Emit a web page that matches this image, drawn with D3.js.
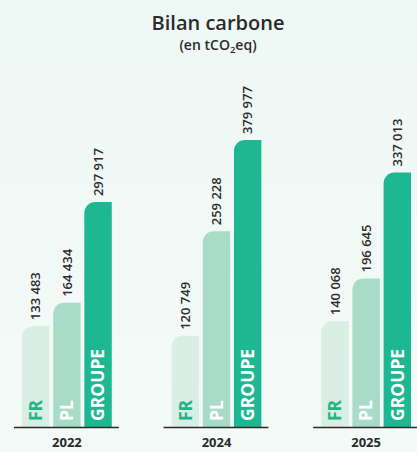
<!DOCTYPE html>
<html>
<head>
<meta charset="utf-8">
<script src="https://cdn.jsdelivr.net/npm/d3@7"></script>
<style>
  body { margin: 0; background: #f1f9f6; }
  svg { display: block; }
</style>
</head>
<body>
<div id="chart"></div>
<script>
// data
let years = ['2022', '2024', '2025'];
let series = ['FR', 'PL', 'GROUPE'];
let valuesFR = [133483, 120749, 140068];
let valuesPL = [164434, 259228, 196645];
let valuesGroupe = [297917, 379977, 337013];

let svgWidth = 417;
let svgHeight = 452;
let baseline = 427;

let colors = { FR: '#d9eee5', PL: '#a8dcc8', GROUPE: '#1db891' };
let labelColors = { FR: '#23b486', PL: '#ffffff', GROUPE: '#ffffff' };

let rows = years.map((y, i) => ({
  year: y,
  FR: valuesFR[i],
  PL: valuesPL[i],
  GROUPE: valuesGroupe[i]
}));

let svg = d3.select('#chart')
  .append('svg')
  .attr('width', svgWidth)
  .attr('height', svgHeight);

// background gradient
let defs = svg.append('defs');
let grad = defs.append('linearGradient')
  .attr('id', 'bg')
  .attr('x1', 0).attr('y1', 0).attr('x2', 0).attr('y2', 1);
grad.append('stop').attr('offset', '0%').attr('stop-color', '#eef8f5');
grad.append('stop').attr('offset', '100%').attr('stop-color', '#f4faf8');
svg.append('rect')
  .attr('width', svgWidth)
  .attr('height', svgHeight)
  .attr('fill', 'url(#bg)');

// title
svg.append('text')
  .attr('x', 218)
  .attr('y', 30)
  .attr('text-anchor', 'middle')
  .style('font-family', 'Open Sans, sans-serif')
  .style('font-weight', 600)
  .style('font-size', '20px')
  .attr('fill', '#2b2b2b')
  .text('Bilan carbone');

let sub = svg.append('text')
  .attr('x', 218)
  .attr('y', 50)
  .attr('text-anchor', 'middle')
  .style('font-family', 'Open Sans, sans-serif')
  .style('font-weight', 600)
  .style('font-size', '14px')
  .attr('fill', '#2b2b2b');
sub.append('tspan').text('(en tCO');
sub.append('tspan').attr('dy', 3).style('font-size', '9.5px').text('2');
sub.append('tspan').attr('dy', -3).text('eq)');

// scales
let x0 = d3.scaleBand()
  .domain(years)
  .range([22, 411])
  .paddingInner(0.4)
  .paddingOuter(0);

let x1 = d3.scaleBand()
  .domain(series)
  .range([0, x0.bandwidth()])
  .paddingInner(0.12);

let yScale = d3.scaleLinear()
  .domain([0, 400000])
  .range([baseline, baseline - 302]);

function barPath(x, y, w, h, r) {
  let p = d3.path();
  p.moveTo(x, y + h);
  p.lineTo(x, y + r);
  p.arcTo(x, y, x + r, y, r);
  p.lineTo(x + w, y);
  p.lineTo(x + w, y + h);
  p.closePath();
  return p.toString();
}

let groups = svg.selectAll('.group')
  .data(rows)
  .enter()
  .append('g')
  .classed('group', true)
  .attr('transform', d => `translate(${x0(d.year)}, 0)`);

let bars = groups.selectAll('.bar')
  .data(d => series.map(s => ({ key: s, value: d[s] })))
  .enter();

bars.append('path')
  .attr('d', d => {
    let top = yScale(d.value);
    return barPath(x1(d.key), top, x1.bandwidth(), baseline - top, 11);
  })
  .attr('fill', d => colors[d.key]);

// value labels
bars.append('text')
  .attr('transform', d => `translate(${x1(d.key) + x1.bandwidth() / 2}, ${yScale(d.value) - 6}) rotate(-90)`)
  .attr('dy', '0.36em')
  .style('font-family', 'Open Sans, sans-serif')
  .style('font-weight', 600)
  .style('font-size', '13px')
  .attr('fill', '#2b2b2b')
  .text(d => d3.format(',')(d.value).replace(',', ' '));

// category labels inside bars
bars.append('text')
  .attr('transform', d => `translate(${x1(d.key) + x1.bandwidth() / 2}, ${baseline - 6}) rotate(-90)`)
  .attr('dy', '0.36em')
  .style('font-family', 'Open Sans, sans-serif')
  .style('font-weight', 700)
  .style('font-size', '17.5px')
  .attr('fill', d => labelColors[d.key])
  .text(d => d.key);

// baseline per group
groups.append('line')
  .attr('x1', -8)
  .attr('x2', x0.bandwidth() + 7)
  .attr('y1', baseline + 0.5)
  .attr('y2', baseline + 0.5)
  .attr('stroke', '#2b2b2b')
  .attr('stroke-width', 1.3);

// year labels
groups.append('text')
  .attr('x', x0.bandwidth() / 2)
  .attr('y', 447)
  .attr('text-anchor', 'middle')
  .style('font-family', 'Open Sans, sans-serif')
  .style('font-weight', 700)
  .style('font-size', '13px')
  .attr('fill', '#2b2b2b')
  .text(d => d.year);
</script>
</body>
</html>
